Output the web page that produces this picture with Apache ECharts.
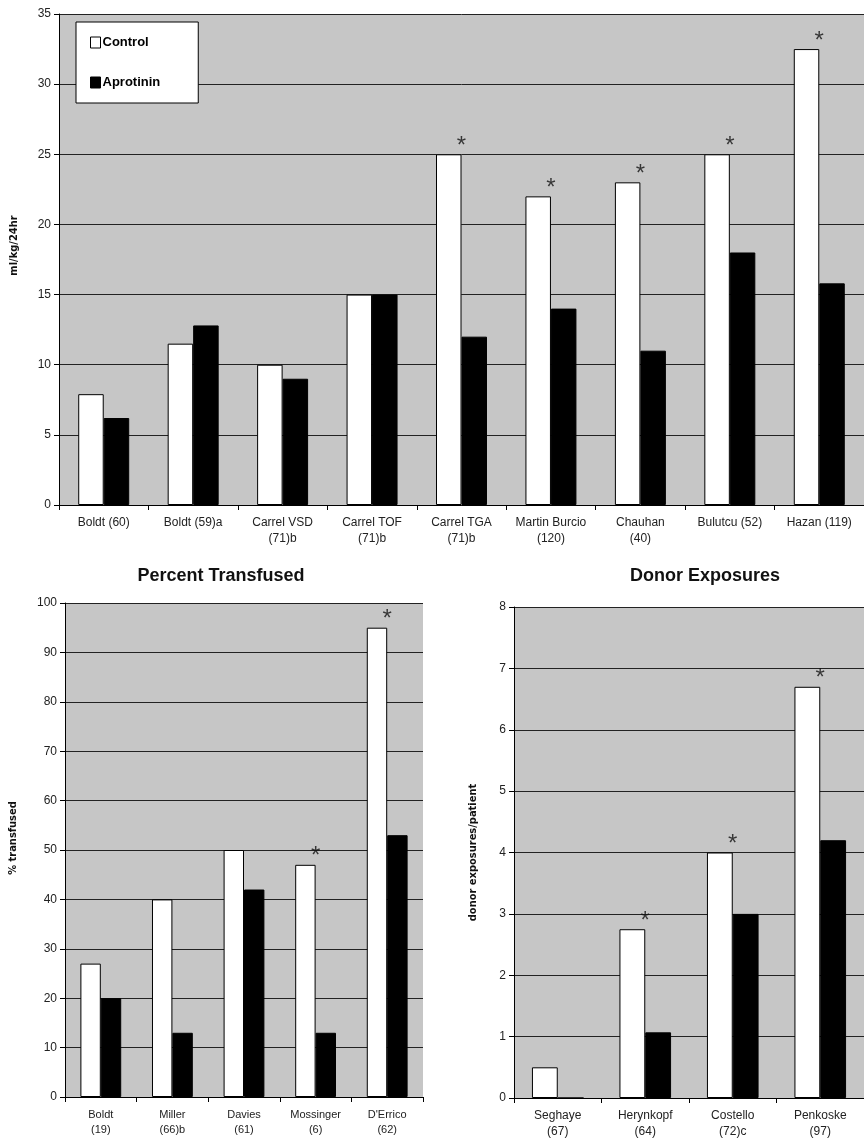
<!DOCTYPE html>
<html><head><meta charset="utf-8">
<script src="https://cdn.jsdelivr.net/npm/echarts@6/dist/echarts.min.js"></script>
<style>html,body{margin:0;padding:0;background:#fff;overflow:hidden}#c{width:864px;height:1145px}</style>
</head><body><div id="c"></div>
<script>
// Top chart: blood loss (ml/kg/24hr)
const lossCategories = ['Boldt (60)', 'Boldt (59)a', 'Carrel VSD\n(71)b', 'Carrel TOF\n(71)b', 'Carrel TGA\n(71)b', 'Martin Burcio\n(120)', 'Chauhan\n(40)', 'Bulutcu (52)', 'Hazan (119)'];
const lossControl = [7.9, 11.5, 10, 15, 25, 22, 23, 25, 32.5];
const lossAprotinin = [6.2, 12.8, 9, 15, 12, 14, 11, 18, 15.8];
const lossStar = [false, false, false, false, true, true, true, true, true];

// Bottom-left: percent transfused
const transCategories = ['Boldt\n(19)', 'Miller\n(66)b', 'Davies\n(61)', 'Mossinger\n(6)', "D'Errico\n(62)"];
const transControl = [27, 40, 50, 47, 95];
const transAprotinin = [20, 13, 42, 13, 53];
const transStar = [false, false, false, true, true];

// Bottom-right: donor exposures
const donorCategories = ['Seghaye\n(67)', 'Herynkopf\n(64)', 'Costello\n(72)c', 'Penkoske\n(97)'];
const donorControl = [0.5, 2.75, 4.0, 6.7];
const donorAprotinin = [0, 1.07, 3.0, 4.2];
const donorStar = [false, true, true, true];

const chart = echarts.init(document.getElementById('c'), null, {renderer: 'canvas'});
const FONT = 'Liberation Sans, Arial, sans-serif';
const NARROW = '"Liberation Sans Narrow", "DejaVu Sans Condensed", "Liberation Sans", sans-serif';

function xAx(idx, cats, fs, lh, margin) {
  return {
    type: 'category', gridIndex: idx, data: cats,
    axisLine: {lineStyle: {color: '#000', width: 1}},
    axisTick: {show: true, length: 5, lineStyle: {color: '#000'}},
    axisLabel: {color: '#222', fontSize: fs, lineHeight: lh, fontFamily: FONT, margin: margin, interval: 0},
    splitLine: {show: false}
  };
}
function yAx(idx, max, interval, name, gap, pad) {
  return {
    type: 'value', gridIndex: idx, min: 0, max: max, interval: interval,
    name: name, nameLocation: 'middle', nameGap: gap, nameRotate: 90,
    nameTextStyle: {fontFamily: NARROW, fontWeight: 'bold', fontSize: 11, color: '#111', padding: pad},
    axisLine: {show: true, lineStyle: {color: '#000', width: 1}},
    axisTick: {show: true, length: 5, lineStyle: {color: '#000'}},
    axisLabel: {color: '#222', fontSize: 12, fontFamily: FONT, margin: 8},
    splitLine: {show: true, lineStyle: {color: '#222', width: 1}}
  };
}
function bars(idx, ctrl, apro, gap) {
  return [
    {name: 'Control', type: 'bar', xAxisIndex: idx, yAxisIndex: idx, data: ctrl, barGap: '0%', barCategoryGap: gap,
     itemStyle: {color: '#fff', borderColor: '#000', borderWidth: 1}, silent: true},
    {name: 'Aprotinin', type: 'bar', xAxisIndex: idx, yAxisIndex: idx, data: apro, barGap: '0%', barCategoryGap: gap,
     itemStyle: {color: '#000', borderColor: '#000', borderWidth: 1}, silent: true}
  ];
}
function stars(idx, ctrl, flags) {
  return {
    type: 'scatter', xAxisIndex: idx, yAxisIndex: idx, symbolSize: 0, silent: true,
    data: ctrl.map((v, i) => flags[i] ? v : null),
    label: {show: true, formatter: '*', position: 'top', distance: -4, fontSize: 24, fontFamily: FONT, color: '#111'}
  };
}

const option = {
  animation: false,
  backgroundColor: '#fff',
  title: [
    {text: 'Percent Transfused', left: 216, top: 562, textAlign: 'center',
     textStyle: {fontFamily: FONT, fontWeight: 'bold', fontSize: 18, color: '#111'}},
    {text: 'Donor Exposures', left: 700, top: 562, textAlign: 'center',
     textStyle: {fontFamily: FONT, fontWeight: 'bold', fontSize: 18, color: '#111'}}
  ],
  legend: {
    data: ['Control', 'Aprotinin'], orient: 'vertical', left: 76, top: 22, icon: 'rect',
    backgroundColor: '#fff', borderColor: '#000', borderWidth: 1,
    padding: [14, 38, 14, 14], itemGap: 27, itemWidth: 10, itemHeight: 11, itemStyle: {borderWidth: 1},
    selectedMode: false,
    textStyle: {fontFamily: FONT, fontWeight: 'bold', fontSize: 13, color: '#000', padding: [0, 0, 0, -3]}
  },
  grid: [
    {left: 59, top: 14, right: -5, height: 491, show: true, backgroundColor: '#c6c6c6', borderWidth: 0, containLabel: false},
    {left: 65, top: 603, width: 358, height: 494, show: true, backgroundColor: '#c6c6c6', borderWidth: 0, containLabel: false},
    {left: 514, top: 607, right: -6, height: 491, show: true, backgroundColor: '#c6c6c6', borderWidth: 0, containLabel: false}
  ],
  xAxis: [
    xAx(0, lossCategories, 12, 16, 10),
    xAx(1, transCategories, 11, 15, 10),
    xAx(2, donorCategories, 12, 16, 10)
  ],
  yAxis: [
    yAx(0, 35, 5, 'ml/kg/24hr', 39, [0, 0, 0, 28]),
    yAx(1, 100, 10, '% transfused', 46, [0, 0, 0, 24]),
    yAx(2, 8, 1, 'donor exposures/patient', 35, 0)
  ],
  series: [
    ...bars(0, lossControl, lossAprotinin, '43%'),
    stars(0, lossControl, lossStar),
    ...bars(1, transControl, transAprotinin, '43%'),
    stars(1, transControl, transStar),
    ...bars(2, donorControl, donorAprotinin, '41%'),
    stars(2, donorControl, donorStar)
  ]
};
chart.setOption(option);
</script></body></html>
